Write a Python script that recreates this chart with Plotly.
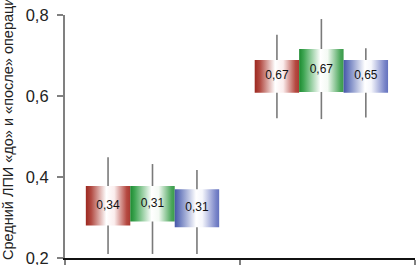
import plotly.graph_objects as go

# ---- data ----
groups = ["до операции", "после операции"]
series = ["Группа 1", "Группа 2", "Группа 3"]

box_low = {
    "Группа 1": [0.280, 0.608],
    "Группа 2": [0.290, 0.610],
    "Группа 3": [0.276, 0.608],
}
box_high = {
    "Группа 1": [0.378, 0.689],
    "Группа 2": [0.378, 0.716],
    "Группа 3": [0.370, 0.689],
}
whisker_low = {
    "Группа 1": [0.210, 0.545],
    "Группа 2": [0.210, 0.543],
    "Группа 3": [0.210, 0.547],
}
whisker_high = {
    "Группа 1": [0.449, 0.751],
    "Группа 2": [0.432, 0.790],
    "Группа 3": [0.417, 0.718],
}
value_labels = {
    "Группа 1": ["0,34", "0,67"],
    "Группа 2": ["0,31", "0,67"],
    "Группа 3": ["0,31", "0,65"],
}
y_ticks = [0.2, 0.4, 0.6, 0.8]
y_tick_labels = ["0,2", "0,4", "0,6", "0,8"]

# ---- layout / style parameters ----
group_pos = [0.0, 0.965]
series_offset = {"Группа 1": -0.254, "Группа 2": 0.0, "Группа 3": 0.254}
box_width = 0.254
gradients = {
    "Группа 1": [[0, "#9c2820"], [0.12, "#b24a42"], [0.46, "#ffffff"], [0.64, "#fbeeee"], [0.92, "#b54840"], [1, "#a83a32"]],
    "Группа 2": [[0, "#1c8a30"], [0.1, "#3ea552"], [0.48, "#ffffff"], [0.64, "#f4faf4"], [0.93, "#4aa65a"], [1, "#3a9a4a"]],
    "Группа 3": [[0, "#4656a8"], [0.12, "#7080c0"], [0.48, "#ffffff"], [0.62, "#f6f7fc"], [0.93, "#7884c8"], [1, "#6472be"]],
}
whisker_color = "#7a7a7a"

fig = go.Figure()

# whiskers (drawn first, boxes cover them)
for s in series:
    xs, ys = [], []
    for gi, gp in enumerate(group_pos):
        xc = gp + series_offset[s]
        xs += [xc, xc, None]
        ys += [whisker_low[s][gi], whisker_high[s][gi], None]
    fig.add_trace(go.Scatter(x=xs, y=ys, mode="lines",
                             line=dict(color=whisker_color, width=1.6),
                             hoverinfo="skip", showlegend=False))

# gradient boxes
for s in series:
    for gi, gp in enumerate(group_pos):
        xc = gp + series_offset[s]
        x0, x1 = xc - box_width / 2, xc + box_width / 2
        lo, hi = box_low[s][gi], box_high[s][gi]
        fig.add_trace(go.Scatter(
            x=[x0, x1, x1, x0, x0], y=[lo, lo, hi, hi, lo],
            mode="lines", fill="toself", line=dict(width=0),
            fillgradient=dict(type="horizontal", colorscale=gradients[s]),
            name=s, showlegend=False, hoverinfo="skip"))

# value labels
for s in series:
    xs = [gp + series_offset[s] for gp in group_pos]
    ys = [(box_low[s][i] + box_high[s][i]) / 2 for i in range(len(group_pos))]
    fig.add_trace(go.Scatter(x=xs, y=ys, mode="text", text=value_labels[s],
                             textposition="middle center",
                             textfont=dict(family="Liberation Sans, Arial, sans-serif", size=12, color="#111"),
                             showlegend=False, hoverinfo="skip"))

fig.add_annotation(
    text="Средний ЛПИ «до» и «после» операции",
    textangle=-90, xref="paper", yref="paper", x=-0.163, y=-0.015,
    xanchor="center", yanchor="bottom", showarrow=False,
    font=dict(family="Liberation Sans, Arial, sans-serif", size=14.5, color="#222"))

fig.update_layout(
    width=416, height=265,
    margin=dict(l=65, r=1, t=15, b=7, autoexpand=False),
    paper_bgcolor="white", plot_bgcolor="white",
    showlegend=False,
    xaxis=dict(range=[-0.5, 1.5], tickvals=[-0.5, 0.5, 1.5], ticktext=["", "", ""],
               ticks="outside", ticklen=5, tickcolor="#808080", tickwidth=2,
               showline=True, linecolor="#111", linewidth=1.5,
               showgrid=False, zeroline=False, automargin=False),
    yaxis=dict(range=[0.2, 0.8], tickvals=y_ticks, ticktext=y_tick_labels,
               ticks="outside", ticklen=6, tickcolor="#808080", tickwidth=1.5,
               ticklabelstandoff=5, ticklabeloverflow="allow",
               showline=True, linecolor="#808080", linewidth=2.2,
               showgrid=False, zeroline=False, automargin=False,
               tickfont=dict(family="Liberation Sans Narrow, Arial Narrow, sans-serif", size=16.5, color="#222")),
)

fig.write_html("out.html", config={"displayModeBar": False},
               post_script="document.body.style.margin='0';")
